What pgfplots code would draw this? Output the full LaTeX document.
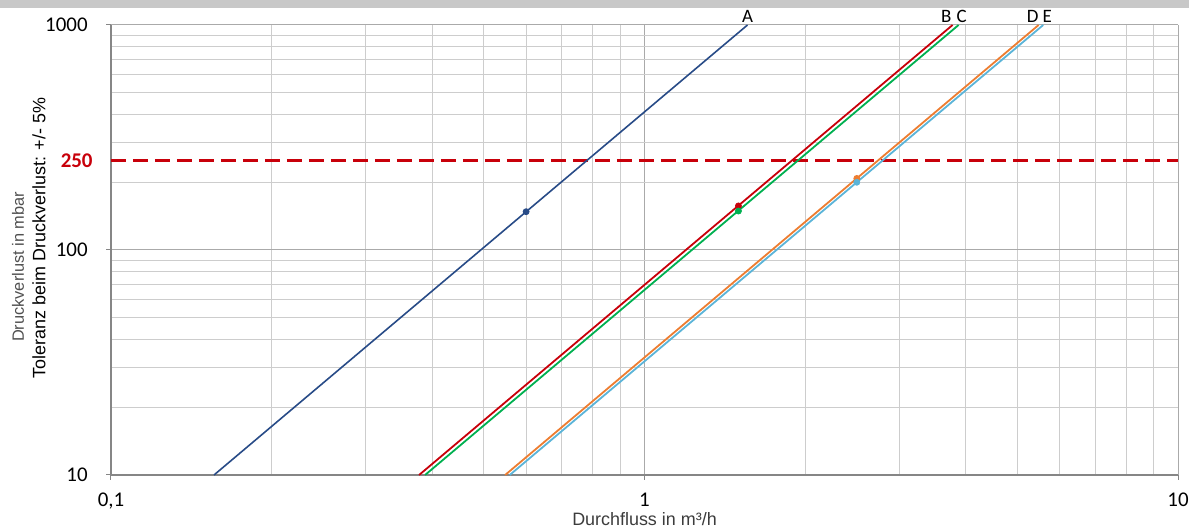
\documentclass[border=0pt]{standalone}
\usepackage{fontspec}
\setmainfont{Carlito}
\newfontfamily\arial{Liberation Sans}
\usepackage{pgfplots}
\pgfplotsset{compat=1.18}
\definecolor{cA}{RGB}{40,75,135}
\definecolor{cB}{RGB}{200,0,10}
\definecolor{cC}{RGB}{0,176,80}
\definecolor{cD}{RGB}{237,125,49}
\definecolor{cE}{RGB}{91,180,216}
\definecolor{gridmaj}{RGB}{170,170,170}
\definecolor{gridmin}{RGB}{205,205,205}
\definecolor{axisgray}{RGB}{134,134,134}
\definecolor{bargray}{RGB}{200,200,200}

\begin{document}
\begin{tikzpicture}
\useasboundingbox (-55.5bp,-26bp) rectangle (539bp,237.5bp);
\fill[bargray] (-55.5bp,233.5bp) rectangle (539bp,237.5bp);
\begin{axis}[
  scale only axis,
  width=533.5bp, height=225bp,
  xmode=log, ymode=log,
  xmin=0.1, xmax=10, ymin=10, ymax=1000,
  axis lines=left,
  axis line style={-, draw=axisgray, line width=0.6bp},
  xtick={0.1,1,10}, xticklabels={0{,}1,1,10},
  ytick={10,100,1000}, yticklabels={10,100,1000},
  minor xtick={0.2,0.3,0.4,0.5,0.6,0.7,0.8,0.9,2,3,4,5,6,7,8,9},
  minor ytick={20,30,40,50,60,70,80,90,200,300,400,500,600,700,800,900},
  grid=both,
  major grid style={draw=gridmaj, line width=0.5bp},
  minor grid style={draw=gridmin, line width=0.5bp},
  tick align=outside,
  major tick length=2.5bp, minor tick length=0pt,
  tick style={draw=axisgray, line width=0.5bp},
  ticklabel style={font=\fontsize{10.5}{12}\selectfont, text=black, inner sep=0pt},
  yticklabel style={xshift=-9bp},
  xticklabel style={yshift=-6.5bp},
  extra y ticks={250}, extra y tick labels={\textbf{250}},
  extra y tick style={grid=none, major tick length=0pt, yticklabel style={text=cB}},
  clip=false,
]
% Grenzlinie 250 mbar
\addplot[cB, line width=1.3bp, dash pattern=on 7.5bp off 3.5bp] coordinates {(0.1,250) (10,250)};

% Kennlinien A-E
\addplot[cA, line width=0.8bp] coordinates {(0.156,10) (1.56,1000)};
\addplot[cB, line width=0.9bp] coordinates {(0.378,10) (3.78,1000)};
\addplot[cC, line width=0.9bp] coordinates {(0.388,10) (3.88,1000)};
\addplot[cD, line width=0.9bp] coordinates {(0.548,10) (5.48,1000)};
\addplot[cE, line width=0.9bp] coordinates {(0.559,10) (5.59,1000)};

% Betriebspunkte
\addplot[cA, only marks, mark=*, mark size=1.5bp] coordinates {(0.60,148)};
\addplot[cB, only marks, mark=*, mark size=1.5bp] coordinates {(1.50,157)};
\addplot[cC, only marks, mark=*, mark size=1.5bp] coordinates {(1.50,149)};
\addplot[cD, only marks, mark=*, mark size=1.5bp] coordinates {(2.50,208)};
\addplot[cE, only marks, mark=*, mark size=1.5bp] coordinates {(2.50,200)};

\begin{scope}[every node/.style={anchor=south, inner sep=0pt, yshift=1bp, font=\fontsize{9.5}{10}\selectfont}]
\node at (axis cs:1.56,1000) {A};
\node at (axis cs:3.68,1000) {B};
\node at (axis cs:3.93,1000) {C};
\node at (axis cs:5.34,1000) {D};
\node at (axis cs:5.69,1000) {E};
\end{scope}
\end{axis}
\node[rotate=90, inner sep=0pt, text={rgb,255:red,80;green,80;blue,80}, font=\arial\fontsize{8.2}{10}\selectfont] at (-46.5bp,104bp) {Druckverlust in mbar};
\node[rotate=90, inner sep=0pt, text=black, font=\arial\fontsize{9}{11}\selectfont] at (-36bp,118.5bp) {Toleranz beim Druckverlust: +/- 5\%};
\node[anchor=north, inner sep=0pt, text={rgb,255:red,60;green,60;blue,60}, font=\arial\fontsize{9}{11}\selectfont] at (266.75bp,-18.5bp) {Durchfluss in m³/h};
\end{tikzpicture}
\end{document}
